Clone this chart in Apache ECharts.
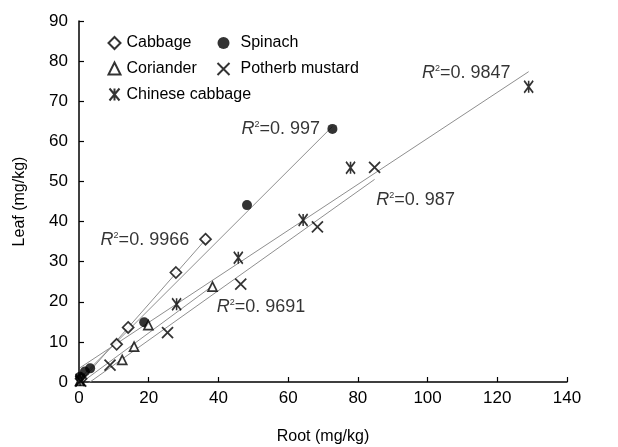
<!DOCTYPE html>
<html><head><meta charset="utf-8">
<script src="https://cdn.jsdelivr.net/npm/echarts@6/dist/echarts.min.js"></script>
<style>html,body{margin:0;padding:0;background:#fff}#c{width:618px;height:447px}</style>
</head><body><div id="c"></div>
<script>
const xTicks = [0, 20, 40, 60, 80, 100, 120, 140];
const yTicks = [0, 10, 20, 30, 40, 50, 60, 70, 80, 90];
const seriesNames = ['Cabbage', 'Spinach', 'Coriander', 'Potherb mustard', 'Chinese cabbage'];
const cabbage = [[0.6, 0.8], [10.8, 9.4], [14.1, 13.6], [27.8, 27.3], [36.3, 35.6]];
const spinach = [[0.3, 1.3], [1.7, 2.6], [3.2, 3.4], [18.7, 14.9], [48.2, 44.1], [72.7, 63.1]];
const coriander = [[0.3, 0.3], [12.4, 5.5], [15.8, 8.8], [19.9, 14.2], [38.3, 23.8]];
const potherb = [[0.5, 0.2], [8.9, 4.2], [25.4, 12.3], [46.4, 24.4], [68.4, 38.7], [84.8, 53.5]];
const chinese = [[0.3, 0.5], [28.0, 19.4], [45.7, 31.0], [64.3, 40.4], [77.9, 53.4], [129.0, 73.6]];
const r2Values = ['0. 9966', '0. 997', '0. 9691', '0. 987', '0. 9847'];
const r2Anchors = [[6.2, 35.4], [46.6, 63.0], [39.5, 18.8], [85.3, 45.4], [98.4, 77.0]];

const FONT = "'Liberation Sans', Arial, sans-serif";
const INK = '#000';
const allData = [cabbage, spinach, coriander, potherb, chinese];

function fit(pts) {
  const n = pts.length;
  let sx = 0, sy = 0;
  pts.forEach(p => { sx += p[0]; sy += p[1]; });
  const mx = sx / n, my = sy / n;
  let sxx = 0, sxy = 0;
  pts.forEach(p => { sxx += (p[0] - mx) ** 2; sxy += (p[0] - mx) * (p[1] - my); });
  const b = sxy / sxx, a = my - b * mx;
  const xs = pts.map(p => p[0]);
  const x0 = Math.min(...xs), x1 = Math.max(...xs);
  return [[x0, a + b * x0], [x1, a + b * x1]];
}

const symbols = [
  { symbol: 'diamond', symbolSize: 11, itemStyle: { color: '#fff', borderColor: INK, borderWidth: 1.7 } },
  { symbol: 'circle', symbolSize: 10, itemStyle: { color: INK, borderColor: INK, borderWidth: 0 } },
  { symbol: 'triangle', symbolSize: 9, itemStyle: { color: '#fff', borderColor: INK, borderWidth: 1.7 } },
  { symbol: 'path://M0,0L10,10M10,0L0,10', symbolSize: 11, itemStyle: { color: 'none', borderColor: INK, borderWidth: 1.8 } },
  { symbol: 'path://M0,0L10,12M10,0L0,12M5,0L5,12', symbolSize: [9, 12], itemStyle: { color: 'none', borderColor: INK, borderWidth: 1.8 } }
];

const series = [];
allData.forEach((d, i) => {
  series.push({
    type: 'line', data: fit(d), symbol: 'none', silent: true, z: 1,
    lineStyle: { color: '#8f8f8f', width: 1 }, animation: false
  });
});
allData.forEach((d, i) => {
  series.push(Object.assign({
    name: seriesNames[i], type: 'scatter', data: d, z: 3, animation: false
  }, symbols[i]));
});
series.push({
  type: 'scatter', symbolSize: 0, z: 4, silent: true, animation: false,
  data: r2Anchors.map((p, i) => ({
    value: p,
    label: { formatter: '{i|R}{s|2}{n|=' + r2Values[i] + '}' }
  })),
  label: {
    show: true, position: 'right', distance: 0,
    rich: {
      i: { fontStyle: 'italic', fontSize: 18, fontFamily: FONT, color: INK },
      s: { fontSize: 9, fontFamily: FONT, color: INK, padding: [0, 0, 9, 0] },
      n: { fontSize: 18, fontFamily: FONT, color: INK }
    }
  }
});

const chart = echarts.init(document.getElementById('c'), null, { renderer: 'canvas' });
chart.setOption({
  backgroundColor: '#fff',
  animation: false,
  grid: { left: 79, right: 51, top: 21, bottom: 65, containLabel: false, outerBoundsMode: 'none' },
  xAxis: {
    type: 'value', min: xTicks[0], max: xTicks[xTicks.length - 1], interval: xTicks[1] - xTicks[0],
    name: 'Root (mg/kg)', nameLocation: 'middle', nameGap: 47,
    nameTextStyle: { fontSize: 16, fontFamily: FONT, color: INK },
    axisLine: { lineStyle: { color: INK, width: 1.5 } },
    axisTick: { inside: true, length: 5, lineStyle: { color: INK, width: 1.2 } },
    axisLabel: { fontSize: 17, fontFamily: FONT, color: INK, margin: 8 },
    splitLine: { show: false }
  },
  yAxis: {
    type: 'value', min: yTicks[0], max: yTicks[yTicks.length - 1], interval: yTicks[1] - yTicks[0],
    name: 'Leaf (mg/kg)', nameLocation: 'middle', nameGap: 51,
    nameTextStyle: { fontSize: 16, fontFamily: FONT, color: INK },
    axisLine: { show: true, lineStyle: { color: INK, width: 1.5 } },
    axisTick: { show: true, inside: true, length: 5, lineStyle: { color: INK, width: 1.2 } },
    axisLabel: { fontSize: 17, fontFamily: FONT, color: INK, margin: 11 },
    splitLine: { show: false }
  },
  legend: [
    {
      data: ['Cabbage', 'Coriander', 'Chinese cabbage'], orient: 'vertical', left: 102, top: 30,
      itemWidth: 12, itemHeight: 12, itemGap: 9.5,
      textStyle: { fontSize: 16, fontFamily: FONT, color: INK, padding: [0, 0, 0, 1] }
    },
    {
      data: ['Spinach', 'Potherb mustard'], orient: 'vertical', left: 210, top: 30,
      itemWidth: 12, itemHeight: 12, itemGap: 9.5,
      textStyle: { fontSize: 16, fontFamily: FONT, color: INK, padding: [0, 0, 0, 6] }
    }
  ],
  series: series
});
</script></body></html>
